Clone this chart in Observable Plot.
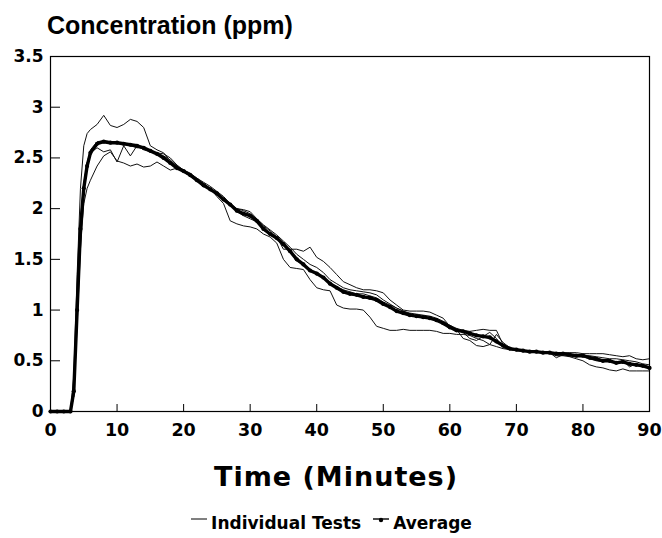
<!DOCTYPE html>
<html><head><meta charset="utf-8">
<script src="https://cdn.jsdelivr.net/npm/d3@7"></script>
<script src="https://cdn.jsdelivr.net/npm/@observablehq/plot@0.6"></script>
<style>
  body{margin:0;background:#fff;}
  #wrap{position:relative;width:662px;height:538px;overflow:hidden;font-family:"DejaVu Sans",sans-serif;font-weight:bold;color:#000;}
  #title{height:38px;box-sizing:border-box;padding:12px 0 0 47px;font-family:"Liberation Sans",Arial,sans-serif;font-size:25px;line-height:26px;}
  #xlabel{height:50px;text-align:center;font-size:27px;letter-spacing:1px;line-height:30px;padding:12px 0 0 10px;box-sizing:border-box;width:662px;}
  #legend{height:38px;box-sizing:border-box;padding:13px 0 0 0;text-align:center;font-size:17px;line-height:20px;}
  #legend span{display:inline-flex;align-items:center;margin:0 3px;}
  #legend svg{margin-right:3px;}
</style></head>
<body><div id="wrap">
<div id="title">Concentration (ppm)</div>
<div id="chart"></div>
<div id="xlabel">Time (Minutes)</div>
<div id="legend"></div>
</div>
<script>
const times = [0,1,2,3,3.5,4,4.5,5,5.5,6,
  7,8,9,10,11,12,13,14,15,16,
  17,18,19,20,21,22,23,24,25,26,
  27,28,29,30,31,32,33,34,35,36,
  37,38,39,40,41,42,43,44,45,46,
  47,48,49,50,51,52,53,54,55,56,
  57,58,59,60,61,62,63,64,65,66,
  67,68,69,70,71,72,73,74,75,76,
  77,78,79,80,81,82,83,84,85,86,
  87,88,89,90];

const average = [0,0,0,0,0.2,1.0,1.8,2.2,2.42,2.55,
  2.64,2.66,2.65,2.65,2.64,2.63,2.62,2.6,2.57,2.54,
  2.5,2.45,2.4,2.37,2.33,2.28,2.23,2.19,2.15,2.09,
  2.04,1.98,1.95,1.93,1.88,1.8,1.75,1.71,1.65,1.58,
  1.5,1.45,1.39,1.36,1.32,1.26,1.22,1.18,1.16,1.15,
  1.13,1.12,1.1,1.06,1.03,0.99,0.97,0.95,0.94,0.93,
  0.92,0.9,0.87,0.83,0.8,0.79,0.77,0.75,0.74,0.73,
  0.69,0.65,0.62,0.61,0.6,0.59,0.59,0.58,0.58,0.57,
  0.57,0.56,0.55,0.55,0.53,0.52,0.5,0.5,0.48,0.49,
  0.47,0.46,0.45,0.43];

const test1 = [0,0,0,0,0.35,1.35,2.2,2.62,2.74,2.78,
  2.83,2.92,2.82,2.8,2.83,2.88,2.86,2.8,2.62,2.58,
  2.55,2.47,2.42,2.36,2.32,2.27,2.22,2.2,2.14,2.1,
  2.03,2.0,1.99,1.97,1.9,1.83,1.78,1.72,1.6,1.6,
  1.6,1.58,1.62,1.52,1.48,1.42,1.35,1.28,1.25,1.22,
  1.2,1.2,1.19,1.17,1.1,1.05,1.0,0.99,0.99,0.99,
  0.98,0.95,0.92,0.84,0.8,0.78,0.72,0.7,0.74,0.78,
  0.72,0.63,0.61,0.6,0.6,0.6,0.59,0.59,0.58,0.58,
  0.58,0.58,0.58,0.57,0.57,0.57,0.57,0.56,0.55,0.54,
  0.55,0.52,0.51,0.52];

const test2 = [0,0,0,0,0.15,0.85,1.6,2.05,2.2,2.28,
  2.42,2.52,2.56,2.47,2.45,2.42,2.44,2.41,2.42,2.46,
  2.42,2.38,2.4,2.38,2.34,2.3,2.25,2.2,2.12,2.05,
  1.88,1.85,1.83,1.82,1.8,1.75,1.72,1.66,1.5,1.42,
  1.41,1.4,1.3,1.22,1.2,1.19,1.05,1.02,1.01,1.01,
  1.0,0.93,0.84,0.82,0.8,0.8,0.81,0.8,0.8,0.8,
  0.8,0.79,0.77,0.77,0.76,0.76,0.75,0.72,0.7,0.66,
  0.64,0.62,0.61,0.6,0.59,0.59,0.58,0.58,0.57,0.55,
  0.55,0.54,0.52,0.5,0.46,0.44,0.43,0.41,0.4,0.42,
  0.4,0.4,0.4,0.4];

const test3 = [0,0,0,0,0.25,1.1,1.9,2.25,2.45,2.55,
  2.6,2.56,2.58,2.46,2.62,2.52,2.62,2.58,2.56,2.55,
  2.52,2.48,2.42,2.38,2.35,2.3,2.26,2.22,2.17,2.12,
  2.05,2.0,1.98,1.95,1.9,1.84,1.79,1.74,1.68,1.62,
  1.55,1.5,1.45,1.42,1.37,1.3,1.26,1.22,1.2,1.19,
  1.18,1.17,1.15,1.1,1.06,1.02,0.99,0.97,0.96,0.95,
  0.94,0.92,0.89,0.85,0.82,0.8,0.79,0.8,0.81,0.8,
  0.8,0.66,0.62,0.61,0.6,0.6,0.59,0.59,0.58,0.58,
  0.57,0.56,0.56,0.55,0.55,0.54,0.53,0.52,0.52,0.51,
  0.5,0.49,0.47,0.46];

const test4 = [0,0,0,0,0.15,0.95,1.75,2.2,2.45,2.58,
  2.66,2.67,2.66,2.65,2.64,2.62,2.6,2.6,2.56,2.55,
  2.54,2.5,2.43,2.38,2.33,2.27,2.25,2.18,2.15,2.08,
  2.05,1.97,1.93,1.9,1.87,1.79,1.74,1.7,1.66,1.58,
  1.49,1.44,1.38,1.37,1.33,1.27,1.23,1.2,1.18,1.16,
  1.16,1.14,1.12,1.08,1.05,1.02,0.99,0.96,0.94,0.93,
  0.92,0.91,0.88,0.85,0.81,0.72,0.7,0.65,0.64,0.66,
  0.76,0.68,0.63,0.61,0.6,0.6,0.59,0.59,0.58,0.53,
  0.56,0.55,0.55,0.54,0.52,0.5,0.49,0.5,0.47,0.5,
  0.44,0.47,0.46,0.44];

const testNames = ["Test 1","Test 2","Test 3","Test 4"];
const xTicks = [0,10,20,30,40,50,60,70,80,90];
const yTicks = [0,0.5,1,1.5,2,2.5,3,3.5];
const legendLabels = ["Individual Tests","Average"];

const tests = [test1,test2,test3,test4];
const testRows = tests.flatMap((s,i) => s.map((c,j) => ({test: testNames[i], t: times[j], c})));
const avgRows = average.map((c,j) => ({t: times[j], c}));

const fmt = d => String(d);
const chart = Plot.plot({
  width: 662,
  height: 412,
  marginTop: 18,
  marginLeft: 50,
  marginRight: 13,
  marginBottom: 39,
  style: {fontFamily: '"DejaVu Sans", sans-serif', fontWeight: "bold", fontSize: "17px", color: "#000", background: "#fff"},
  x: {domain: [0,90], label: null},
  y: {domain: [0,3.5], label: null},
  marks: [
    Plot.line(testRows, {x: "t", y: "c", z: "test", stroke: "#111", strokeWidth: 1}),
    Plot.line(avgRows, {x: "t", y: "c", stroke: "#000", strokeWidth: 3.4}),
    Plot.dot(avgRows, {x: "t", y: "c", r: 2.1, fill: "#000"}),
    Plot.axisY({ticks: yTicks, tickSize: 10, dx: 10, fill: "none", stroke: "#000", label: null}),
    Plot.axisY({ticks: yTicks, tickSize: 0, tickPadding: 7, tickFormat: fmt, fontSize: 17, letterSpacing: 1, label: null}),
    Plot.axisX({ticks: xTicks, tickSize: 7, dy: -7, fill: "none", stroke: "#000", label: null}),
    Plot.axisX({ticks: xTicks, tickSize: 0, tickPadding: 12, tickFormat: fmt, fontSize: 17.5, label: null}),
    Plot.frame({stroke: "#000", strokeWidth: 1.2})
  ]
});
document.getElementById("chart").appendChild(chart);

const lg = document.getElementById("legend");
lg.innerHTML =
  `<span><svg width="18" height="14"><line x1="1" y1="3" x2="17" y2="3" stroke="#000" stroke-width="1"/></svg>${legendLabels[0]}</span>` +
  `<span style="margin-left:8px"><svg width="18" height="14"><line x1="1" y1="3" x2="17" y2="3" stroke="#000" stroke-width="1.4"/><circle cx="9" cy="4" r="2.2" fill="#000"/></svg>${legendLabels[1]}</span>`;
</script>
</body></html>
